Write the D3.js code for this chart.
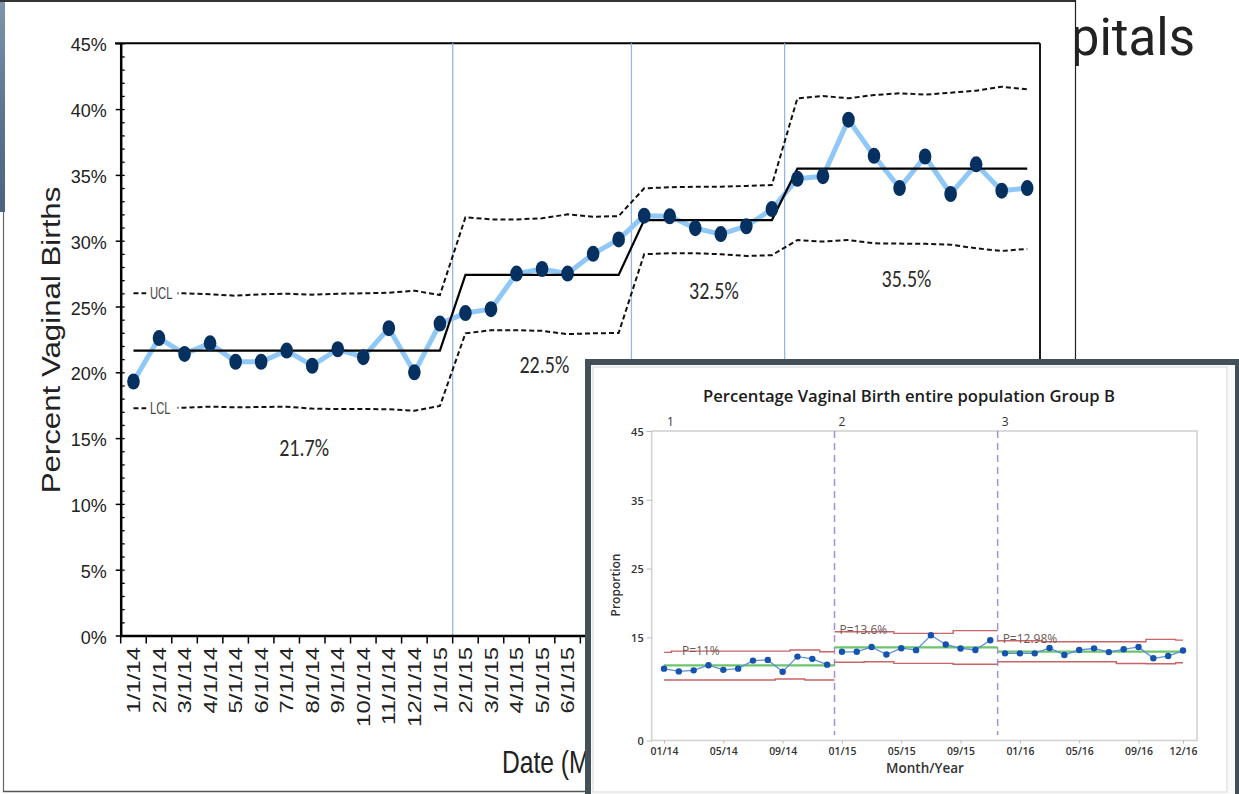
<!DOCTYPE html>
<html><head><meta charset="utf-8">
<script src="https://cdn.jsdelivr.net/npm/d3@7"></script>
<style>
html,body{margin:0;padding:0;background:#fff;}
svg{display:block;}
</style></head><body>
<svg id="c" width="1239" height="794"></svg>
<script>
// ---------- main chart data ----------
const months = ["1/1/14","2/1/14","3/1/14","4/1/14","5/1/14","6/1/14","7/1/14","8/1/14","9/1/14","10/1/14","11/1/14","12/1/14",
  "1/1/15","2/1/15","3/1/15","4/1/15","5/1/15","6/1/15","7/1/15","8/1/15","9/1/15","10/1/15","11/1/15","12/1/15",
  "1/1/16","2/1/16","3/1/16","4/1/16","5/1/16","6/1/16","7/1/16","8/1/16","9/1/16","10/1/16","11/1/16","12/1/16"];
const pctVaginal = [19.3,22.6,21.4,22.2,20.8,20.8,21.65,20.5,21.75,21.15,23.35,20.0,23.7,
  24.5,24.8,27.5,27.85,27.5,29.0,30.1,
  31.9,31.85,30.95,30.5,31.1,32.4,
  34.7,34.9,39.2,36.45,34.0,36.4,33.55,35.8,33.8,34.0];
const centerLine = [21.65,21.65,21.65,21.65,21.65,21.65,21.65,21.65,21.65,21.65,21.65,21.65,21.65,
  27.4,27.4,27.4,27.4,27.4,27.4,27.4,
  31.57,31.57,31.57,31.57,31.57,31.57,
  35.47,35.47,35.47,35.47,35.47,35.47,35.47,35.47,35.47,35.47];
const ucl = [26.0,26.0,26.0,25.93,25.82,25.93,25.97,25.9,25.97,26.0,26.05,26.2,25.87,
  31.78,31.62,31.62,31.7,32.0,31.82,31.87,
  33.98,34.06,34.1,34.1,34.16,34.23,
  40.82,41.0,40.82,41.07,41.2,41.1,41.25,41.4,41.7,41.5];
const lcl = [17.26,17.28,17.31,17.39,17.34,17.36,17.39,17.24,17.21,17.21,17.19,17.08,17.44,
  22.96,23.2,23.2,23.15,22.9,22.96,22.99,
  28.97,29.05,29.05,28.97,28.84,28.9,
  30.05,29.93,30.05,29.8,29.78,29.76,29.7,29.42,29.22,29.38];
const phaseStarts = ["2/1/15","9/1/15","3/1/16"];
const phaseValueLabels = ["21.7%","22.5%","32.5%","35.5%"];
const phaseLabelIndex = [6.68,16.09,22.73,30.27];
const phaseLabelValue = [13.64,19.95,25.55,26.5];
const yTickValues = [0,5,10,15,20,25,30,35,40,45];
const yMinorValues = d3.range(0,46,1);

// ---------- inset data ----------
const insetMonths = ["01/14","02/14","03/14","04/14","05/14","06/14","07/14","08/14","09/14","10/14","11/14","12/14",
  "01/15","02/15","03/15","04/15","05/15","06/15","07/15","08/15","09/15","10/15","11/15","12/15",
  "01/16","02/16","03/16","04/16","05/16","06/16","07/16","08/16","09/16","10/16","11/16","12/16"];
const groupB = [10.45,10.05,10.2,10.95,10.27,10.45,11.62,11.72,10.0,12.2,11.87,11.03,
  12.9,12.9,13.6,12.5,13.42,13.14,15.3,13.96,13.38,13.16,14.58,
  12.67,12.67,12.67,13.45,12.43,13.16,13.4,12.85,13.26,13.6,11.95,12.28,13.08];
const groupBCenter = [10.93,10.93,10.93,10.93,10.93,10.93,10.93,10.93,10.93,10.93,10.93,10.93,
  13.55,13.55,13.55,13.55,13.55,13.55,13.55,13.55,13.55,13.55,13.55,
  12.91,12.91,12.91,12.91,12.91,12.91,12.91,12.91,12.91,12.91,12.91,12.91,12.91];
const groupBUcl = [12.82,12.99,12.99,12.99,12.99,12.99,12.99,12.99,12.99,13.15,13.15,12.9,
  15.82,15.82,15.82,15.82,15.58,15.58,15.58,15.58,15.97,15.97,15.97,
  14.51,14.51,14.51,14.36,14.36,14.36,14.36,14.36,14.36,14.36,14.71,14.71,14.6];
const groupBLcl = [8.8,8.8,8.8,8.8,8.8,8.8,8.8,8.8,8.95,8.95,8.8,8.8,
  11.37,11.37,11.45,11.45,11.22,11.22,11.22,11.22,11.08,11.08,11.08,
  11.45,11.45,11.45,11.45,11.45,11.45,11.45,11.45,11.2,11.2,11.15,11.15,11.3];
const stageNames = ["1","2","3"];
const stageFirst = [0,12,23];
const stageLast = [11,22,35];
const stageMeanLabels = ["P=11%","P=13.6%","P=12.98%"];
const insetXTicks = ["01/14","05/14","09/14","01/15","05/15","09/15","01/16","05/16","09/16","12/16"];
const insetYTicks = [0,15,25,35,45];

const svg = d3.select("#c");
const sans = "'Liberation Sans', Arial, sans-serif";

// ---------- slide background ----------
svg.append("text").attr("x",1195).attr("y",55).attr("text-anchor","end")
  .attr("font-family","Roboto, sans-serif").attr("font-size",51).attr("fill","#222").text("Hospitals");
const defs = svg.append("defs");
const g1 = defs.append("linearGradient").attr("id","photo").attr("x1",0).attr("y1",0).attr("x2",0).attr("y2",1);
g1.append("stop").attr("offset","0%").attr("stop-color","#7f95ad");
g1.append("stop").attr("offset","50%").attr("stop-color","#5d7792");
g1.append("stop").attr("offset","100%").attr("stop-color","#4a6480");
svg.append("rect").attr("x",0).attr("y",0).attr("width",7).attr("height",212).attr("fill","url(#photo)");

// main chart sheet
svg.append("rect").attr("x",5).attr("y",0).attr("width",1070).attr("height",792).attr("fill","#fff");
svg.append("line").attr("x1",0).attr("x2",1075.5).attr("y1",1).attr("y2",1).attr("stroke","#333").attr("stroke-width",2);
svg.append("line").attr("x1",1075.5).attr("x2",1075.5).attr("y1",0).attr("y2",360).attr("stroke","#222").attr("stroke-width",1.2);
svg.append("line").attr("x1",3.5).attr("x2",3.5).attr("y1",212).attr("y2",792).attr("stroke","#666").attr("stroke-width",1.2);
svg.append("line").attr("x1",3).attr("x2",590).attr("y1",791.5).attr("y2",791.5).attr("stroke","#555").attr("stroke-width",1.5);

// ---------- main chart ----------
const x = d3.scaleBand().domain(months).range([120.7,1040]).padding(0);
const y = d3.scaleLinear().domain([0,45]).range([635.5,43.3]);
const cx = i => x(months[i]) + x.bandwidth()/2;
const idxX = v => x.range()[0] + (v + 0.5) * x.step();

// frame top/right
svg.append("line").attr("x1",115).attr("x2",1040).attr("y1",y(45)).attr("y2",y(45)).attr("stroke","#000").attr("stroke-width",2);
svg.append("line").attr("x1",1040).attr("x2",1040).attr("y1",y(45)).attr("y2",y(0)).attr("stroke","#000").attr("stroke-width",1.8);

// phase separators
svg.append("g").selectAll("line").data(phaseStarts).join("line")
  .attr("x1",d=>x(d)).attr("x2",d=>x(d)).attr("y1",y(45)).attr("y2",y(0))
  .attr("stroke","#98b6e4").attr("stroke-width",1.3);

const line = d3.line().x((d,i)=>cx(i)).y(d=>y(d));

// data line
svg.append("path").attr("d",line(pctVaginal)).attr("fill","none")
  .attr("stroke","#8fc7f7").attr("stroke-width",5).attr("stroke-linejoin","round").attr("stroke-linecap","round");
// control limits
[ucl,lcl].forEach(arr=>{
  svg.append("path").attr("d",line(arr)).attr("fill","none")
    .attr("stroke","#111").attr("stroke-width",2).attr("stroke-dasharray","5,3");
});
// center line
svg.append("path").attr("d",line(centerLine)).attr("fill","none").attr("stroke","#000").attr("stroke-width",2.2);
// points
svg.append("g").selectAll("ellipse").data(pctVaginal).join("ellipse")
  .attr("cx",(d,i)=>cx(i)).attr("cy",d=>y(d)).attr("rx",6.3).attr("ry",8).attr("fill","#05305f");

// UCL / LCL labels
[["UCL",ucl[0]],["LCL",lcl[0]]].forEach(([t,v])=>{
  svg.append("rect").attr("x",cx(0)+13).attr("y",y(v)-9).attr("width",31).attr("height",18).attr("fill","#fff");
  svg.append("text").attr("transform",`translate(${cx(0)+16.5},${y(v)+6}) scale(0.68,1)`)
    .attr("font-family",sans).attr("font-size",16.5).attr("fill","#444").text(t);
});

// phase value labels
svg.append("g").selectAll("text").data(phaseValueLabels).join("text")
  .attr("transform",(d,i)=>`translate(${idxX(phaseLabelIndex[i])},${y(phaseLabelValue[i])}) scale(0.8,1)`)
  .attr("text-anchor","middle").attr("font-family","Carlito, Calibri, "+sans).attr("font-size",25).attr("fill","#2a2a2a").text(d=>d);

// y axis
const gy = svg.append("g").attr("transform",`translate(${x.range()[0]},0)`)
  .call(d3.axisLeft(y).tickValues(yTickValues).tickSize(5).tickSizeOuter(0).tickPadding(9).tickFormat(d=>d+"%"));
gy.select(".domain").attr("stroke","#000").attr("stroke-width",2.5);
gy.selectAll(".tick line").attr("stroke","#000").attr("stroke-width",1.5);
gy.selectAll(".tick text").attr("font-family",sans).attr("font-size",18).attr("fill","#222").attr("dy","0.42em");
const gyMinor = svg.append("g").attr("transform",`translate(${x.range()[0]},0)`)
  .call(d3.axisRight(y).tickValues(yMinorValues).tickSize(4).tickSizeOuter(0).tickFormat(""));
gyMinor.select(".domain").remove();
gyMinor.selectAll(".tick line").attr("stroke","#000").attr("stroke-width",1.3);

// x axis
const gx = svg.append("g").attr("transform",`translate(0,${y(0)})`)
  .call(d3.axisBottom(x).tickSize(0).tickSizeOuter(0));
gx.select(".domain").attr("stroke","#000").attr("stroke-width",2.5);
gx.selectAll(".tick text").attr("x",0).attr("y",0).attr("dy","0.35em").attr("text-anchor","end")
  .attr("transform","translate(0,11.5) rotate(-90) scale(1.26,1)")
  .attr("font-family",sans).attr("font-size",19).attr("fill","#222");
gx.append("g").selectAll("line").data(months.concat(["end"])).join("line")
  .attr("x1",d=>d==="end"?x.range()[1]:x(d)).attr("x2",d=>d==="end"?x.range()[1]:x(d))
  .attr("y1",0).attr("y2",8).attr("stroke","#000").attr("stroke-width",1.5);

// axis titles
svg.append("text").attr("transform","translate(502,773) scale(0.77,1)")
  .attr("font-family",sans).attr("font-size",32).attr("fill","#222").text("Date (Month/Year)");
svg.append("text").attr("transform","translate(60,340) rotate(-90) scale(1.25,1)")
  .attr("text-anchor","middle").attr("font-family",sans).attr("font-size",25).attr("fill","#222").text("Percent Vaginal Births");

// ---------- inset ----------
const inset = svg.append("g");
inset.append("rect").attr("x",585).attr("y",359).attr("width",660).attr("height",445).attr("fill","#415059");
inset.append("rect").attr("x",591).attr("y",365).attr("width",644).attr("height",440).attr("fill","#fafafa");
inset.append("rect").attr("x",593).attr("y",367).attr("width",634).attr("height",425).attr("fill","#fff")
  .attr("stroke","#dedede").attr("stroke-width",1.2);

const ix = d3.scalePoint().domain(insetMonths).range([664,1183]);
const iy = d3.scaleLinear().domain([0,45]).range([740.5,431]);
const ipx = i => ix(insetMonths[i]);
const dividerX = k => (ipx(stageLast[k]) + ipx(stageFirst[k+1]))/2;

inset.append("text").attr("x",909).attr("y",401.5).attr("text-anchor","middle")
  .attr("font-family","'Open Sans', 'Noto Sans', sans-serif").attr("font-weight",600).attr("font-size",16.5)
  .attr("textLength",412).attr("lengthAdjust","spacingAndGlyphs").attr("fill","#1c1c1c")
  .text("Percentage Vaginal Birth entire population Group B");

// plot frame
inset.append("rect").attr("x",651.7).attr("y",iy(45)).attr("width",1197-651.7).attr("height",iy(0)-iy(45))
  .attr("fill","#fff").attr("stroke","#d2d2d2").attr("stroke-width",1.6);

const ifont = "'Open Sans', 'Noto Sans', sans-serif";
// y ticks
const igy = inset.append("g").attr("transform","translate(651.7,0)")
  .call(d3.axisLeft(iy).tickValues(insetYTicks).tickSize(5).tickSizeOuter(0).tickPadding(3));
igy.select(".domain").remove();
igy.selectAll(".tick line").attr("stroke","#bbb");
igy.selectAll(".tick text").attr("font-family",ifont).attr("font-weight",600).attr("font-size",11)
  .attr("fill","#333").attr("dy","0.4em");
// x ticks
const igx = inset.append("g").attr("transform",`translate(0,${iy(0)})`)
  .call(d3.axisBottom(ix).tickValues(insetXTicks).tickSize(3).tickSizeOuter(0).tickPadding(3));
igx.select(".domain").remove();
igx.selectAll(".tick line").attr("stroke","#bbb");
igx.selectAll(".tick text").attr("font-family",ifont).attr("font-weight",600).attr("font-size",11.5)
  .attr("fill","#333").attr("textLength",28).attr("lengthAdjust","spacingAndGlyphs");

inset.append("text").attr("x",925).attr("y",773).attr("text-anchor","middle").attr("font-family",ifont)
  .attr("font-weight",600).attr("font-size",13.5).attr("fill","#333").text("Month/Year");
inset.append("text").attr("transform","translate(620,585) rotate(-90)").attr("text-anchor","middle")
  .attr("font-family",ifont).attr("font-weight",600).attr("font-size",12).attr("fill","#333").text("Proportion");

// dividers
[0,1].forEach(k=>{
  inset.append("line").attr("x1",dividerX(k)).attr("x2",dividerX(k)).attr("y1",iy(45)).attr("y2",735)
    .attr("stroke","#a48fdc").attr("stroke-width",1.5).attr("stroke-dasharray","7,5");
});
// stage labels
stageNames.forEach((s,k)=>{
  const sx = k===0 ? ipx(stageFirst[0]) + 3 : dividerX(k-1) + 4;
  inset.append("text").attr("x",sx).attr("y",426).attr("font-family",ifont).attr("font-size",12)
    .attr("fill","#333").text(s);
});

// control lines per stage
const stepLine = d3.line().x(d=>d[0]).y(d=>iy(d[1])).curve(d3.curveStep);
stageNames.forEach((s,k)=>{
  const a = stageFirst[k], b = stageLast[k];
  const startX = k===0 ? ipx(a) : dividerX(k-1);
  const endX = k===stageNames.length-1 ? ipx(b) : dividerX(k);
  const build = arr => {
    const pts = [[startX, arr[a]]];
    for (let i=a;i<=b;i++) pts.push([ipx(i), arr[i]]);
    pts.push([endX, arr[b]]);
    return pts;
  };
  inset.append("path").attr("d",stepLine(build(groupBCenter))).attr("fill","none").attr("stroke","#6cc46c").attr("stroke-width",2.2);
  [groupBUcl, groupBLcl].forEach(arr=>{
    inset.append("path").attr("d",stepLine(build(arr))).attr("fill","none").attr("stroke","#c86565").attr("stroke-width",1.4);
  });
  const seg = d3.range(a,b+1);
  inset.append("path").attr("d",d3.line().x(i=>ipx(i)).y(i=>iy(groupB[i]))(seg)).attr("fill","none")
    .attr("stroke","#5b8fd8").attr("stroke-width",1.3);
  inset.append("g").selectAll("circle").data(seg).join("circle")
    .attr("cx",i=>ipx(i)).attr("cy",i=>iy(groupB[i])).attr("r",3.2).attr("fill","#1553ae");
  // mean label
  const lx = k===0 ? ipx(a) + 18 : startX + 5;
  inset.append("text").attr("x",lx).attr("y",iy(groupBUcl[a]) + 2.5).attr("font-family",ifont)
    .attr("font-size",12).attr("fill","#6a5a55").text(stageMeanLabels[k]);
});
</script>
</body></html>
